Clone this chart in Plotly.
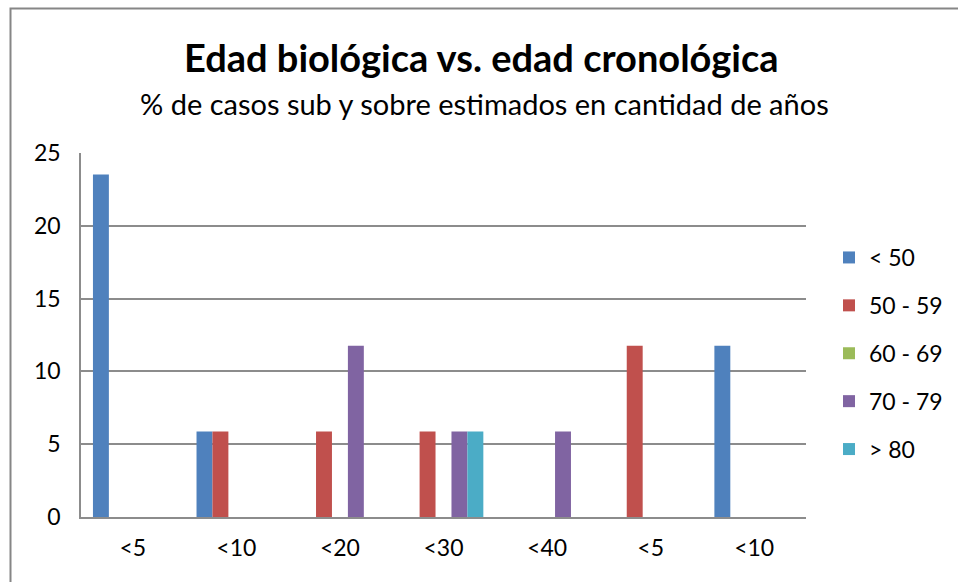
import plotly.graph_objects as go

# Categories (years of under/over estimation); labels repeat, so bars sit on index positions
categories = ["<5", "<10", "<20", "<30", "<40", "<5", "<10"]
positions = list(range(len(categories)))

# % of cases per age group
series_names = ["< 50", "50 - 59", "60 - 69", "70 - 79", "> 80"]
menos_50 = [23.53, 5.88, 0, 0, 0, 0, 11.76]
de_50_59 = [0, 5.88, 5.88, 5.88, 0, 11.76, 0]
de_60_69 = [0, 0, 0, 0, 0, 0, 0]
de_70_79 = [0, 0, 11.76, 5.88, 5.88, 0, 0]
mas_80 = [0, 0, 0, 5.88, 0, 0, 0]
series_values = [menos_50, de_50_59, de_60_69, de_70_79, mas_80]
colors = ["#4F81BD", "#C0504D", "#9BBB59", "#8064A2", "#4BACC6"]

y_ticks = [0, 5, 10, 15, 20, 25]

W, H = 958, 582
L, R, T, B = 81, 152, 153, 65
pw, ph = W - L - R, H - T - B

fig = go.Figure()
for i, (name, vals, col) in enumerate(zip(series_names, series_values, colors)):
    fig.add_trace(go.Bar(
        x=positions, y=vals, name=name, legendgroup=f"g{i}",
        marker=dict(color=col, line=dict(width=0)),
    ))

font_family = "Lato, 'Open Sans', sans-serif"
grid = "#8C8C8C"

fig.update_layout(
    width=W, height=H,
    margin=dict(l=L, r=R, t=T, b=B, autoexpand=False),
    paper_bgcolor="white", plot_bgcolor="white",
    font=dict(family=font_family, color="black", size=23),
    barmode="group", bargap=1.5 / 6.5, bargroupgap=0,
    showlegend=True,
    legend=dict(
        x=(829 - L) / pw, y=(517 - 236) / ph, xanchor="left", yanchor="top",
        font=dict(size=23), tracegroupgap=15, itemwidth=30,
        bgcolor="rgba(0,0,0,0)",
    ),
    xaxis=dict(
        tickmode="array", tickvals=positions, ticktext=categories,
        range=[-0.5, len(categories) - 0.5],
        showline=True, linecolor=grid, linewidth=1.5,
        ticks="", showgrid=False, zeroline=False,
        tickfont=dict(size=23), ticklabelstandoff=10,
    ),
    yaxis=dict(
        range=[0, 25], tickmode="array", tickvals=y_ticks,
        showline=True, linecolor=grid, linewidth=1.5,
        showgrid=True, gridcolor=grid, gridwidth=1.5,
        zeroline=False, ticks="", tickfont=dict(size=23),
        ticklabelstandoff=14,
    ),
    annotations=[
        dict(text="<b>Edad biológica vs. edad cronológica</b>", xref="paper", yref="paper",
             x=(481 - L) / pw, y=(517 - 57) / ph, xanchor="center", yanchor="middle",
             showarrow=False, font=dict(size=38, family=font_family)),
        dict(text="% de casos sub y sobre estimados en cantidad de años", xref="paper", yref="paper",
             x=(484 - L) / pw, y=(517 - 103) / ph, xanchor="center", yanchor="middle",
             showarrow=False, font=dict(size=29, family=font_family)),
    ],
    shapes=[
        # chart-area frame
        dict(type="rect", xref="paper", yref="paper",
             x0=(10.5 - L) / pw, x1=(980 - L) / pw,
             y0=(517 - 600) / ph, y1=(517 - 8.5) / ph,
             line=dict(color="#868686", width=2), fillcolor="rgba(0,0,0,0)", layer="below"),
    ],
)

fig.write_html("out.html")
